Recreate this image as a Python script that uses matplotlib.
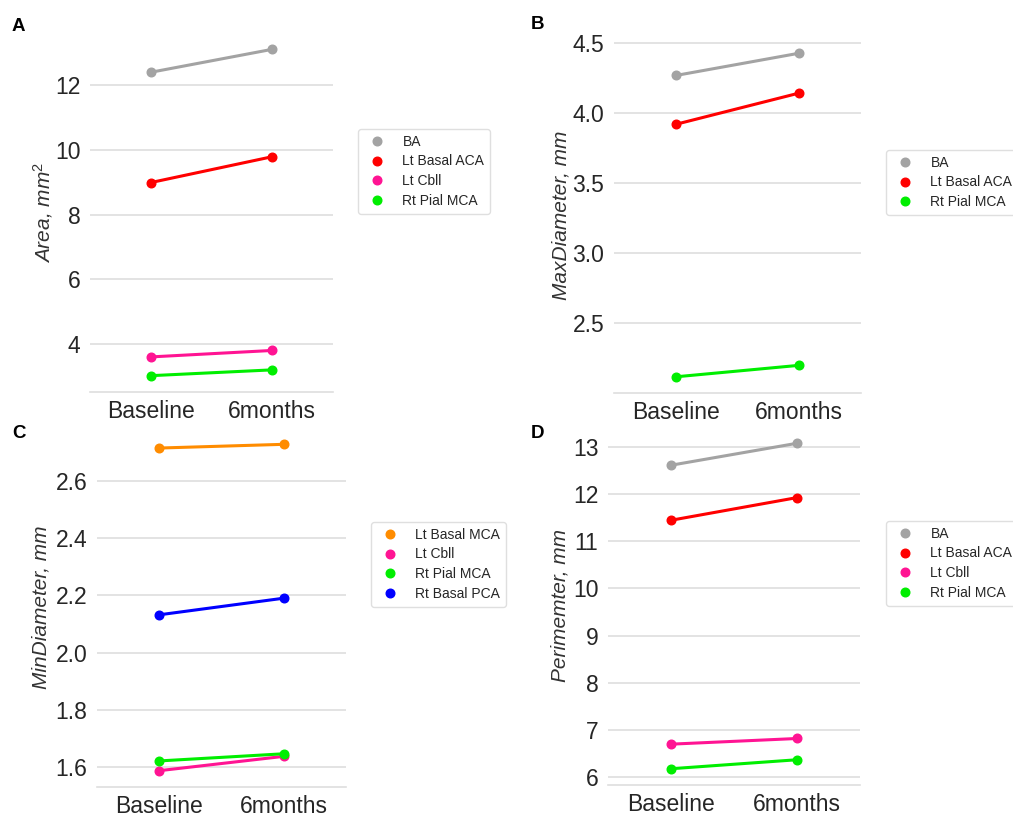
import matplotlib.pyplot as plt
from matplotlib.lines import Line2D

plt.rcParams['font.family'] = ['Liberation Sans', 'DejaVu Sans']
plt.rcParams['mathtext.fontset'] = 'custom'
plt.rcParams['mathtext.rm'] = 'Liberation Sans'
plt.rcParams['mathtext.it'] = 'Liberation Sans:italic'

# Datos
tiempos = ['Baseline', '6months']

area_series = ['BA', 'Lt Basal ACA', 'Lt Cbll', 'Rt Pial MCA']
area_vals = [[12.40, 13.11], [8.99, 9.79], [3.60, 3.80], [3.02, 3.20]]

maxd_series = ['BA', 'Lt Basal ACA', 'Rt Pial MCA']
maxd_vals = [[4.265, 4.424], [3.917, 4.140], [2.118, 2.200]]

mind_series = ['Lt Basal MCA', 'Lt Cbll', 'Rt Pial MCA', 'Rt Basal PCA']
mind_vals = [[2.714, 2.727], [1.588, 1.638], [1.622, 1.647], [2.132, 2.190]]

perim_series = ['BA', 'Lt Basal ACA', 'Lt Cbll', 'Rt Pial MCA']
perim_vals = [[12.605, 13.07], [11.44, 11.92], [6.70, 6.82], [6.18, 6.37]]

colores = {'BA': '#a3a3a3', 'Lt Basal ACA': '#ff0000', 'Lt Cbll': '#ff1493',
           'Rt Pial MCA': '#00ee00', 'Lt Basal MCA': '#ff8c00', 'Rt Basal PCA': '#0000ff'}

W, H = 1013, 817
fig = plt.figure(figsize=(W / 100, H / 100), dpi=100)


def caja(l, t, r, b):
    return [l / W, 1 - b / H, (r - l) / W, (b - t) / H]


def panel(rect, series, vals, ylabel, yticks, fmt, label_x, leg_xy, letra, letra_xy):
    ax = fig.add_axes(rect)
    x = list(range(len(tiempos)))
    for nombre, v in zip(series, vals):
        ax.plot(x, v, '-o', color=colores[nombre], lw=2.2, ms=6.2, zorder=3)
    ax.set_xlim(-0.5, 1.5)
    ax.set_xticks(x)
    ax.set_xticklabels(tiempos)
    ax.set_yticks(yticks)
    ax.set_yticklabels([fmt.format(t) for t in yticks])
    ax.tick_params(axis='both', length=0, labelsize=16.5, colors='#262626')
    ax.tick_params(axis='y', pad=7)
    ax.tick_params(axis='x', pad=6)
    ax.grid(axis='y', color='#dedede', lw=1.2)
    ax.set_axisbelow(True)
    for s in ['left', 'right', 'top']:
        ax.spines[s].set_visible(False)
    ax.spines['bottom'].set_color('#dedede')
    ax.spines['bottom'].set_linewidth(1.2)
    ax.set_ylabel(ylabel, fontsize=15, style='italic', color='#333333')
    ax.yaxis.set_label_coords(label_x, 0.5)
    handles = [Line2D([], [], marker='o', ls='none', color=colores[n], ms=6.2) for n in series]
    leg = ax.legend(handles, series, loc='upper left', bbox_to_anchor=leg_xy,
                    bbox_transform=fig.transFigure, borderaxespad=0, fontsize=10,
                    labelspacing=0.42, frameon=True)
    leg.get_frame().set_edgecolor('#d8d8d8')
    for t in leg.get_texts():
        t.set_color('#262626')
    fig.text(letra_xy[0] / W, 1 - letra_xy[1] / H, letra, fontsize=13.5,
             fontweight='bold', ha='left', va='baseline')
    return ax


panel(caja(90, 33, 333, 392), area_series, area_vals, r'Area, mm$^{2}$',
      [4, 6, 8, 10, 12], '{:g}', -0.145, (358 / W, 1 - 129 / H), 'A', (12, 31))
panel(caja(614, 37, 861, 393), maxd_series, maxd_vals, 'MaxDiameter, mm',
      [2.5, 3.0, 3.5, 4.0, 4.5], '{:.1f}', -0.175, (886 / W, 1 - 150 / H), 'B', (531, 29))
panel(caja(97, 428, 346, 787), mind_series, mind_vals, 'MinDiameter, mm',
      [1.6, 1.8, 2.0, 2.2, 2.4, 2.6], '{:.1f}', -0.187, (371 / W, 1 - 522 / H), 'C', (12, 438))
panel(caja(608, 427, 860, 785), perim_series, perim_vals, 'Perimemter, mm',
      [6, 7, 8, 9, 10, 11, 12, 13], '{:g}', -0.153, (886 / W, 1 - 521 / H), 'D', (531, 438))

plt.savefig('out.png', dpi=100)
